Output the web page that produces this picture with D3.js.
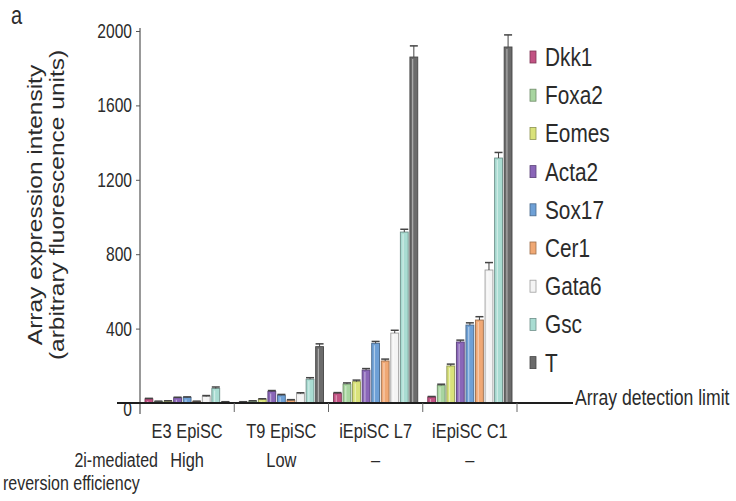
<!DOCTYPE html>
<html>
<head>
<meta charset="utf-8">
<script src="https://cdn.jsdelivr.net/npm/d3@7"></script>
<style>
  html, body { margin: 0; padding: 0; background: #fff; }
  svg { display: block; font-family: "Liberation Sans", Arial, sans-serif; }
</style>
</head>
<body>
<svg id="chart" width="736" height="501"></svg>
<script>
// ---- data ----
const groups = ["E3 EpiSC", "T9 EpiSC", "iEpiSC L7", "iEpiSC C1"];
const genes = ["Dkk1", "Foxa2", "Eomes", "Acta2", "Sox17", "Cer1", "Gata6", "Gsc", "T"];
const geneColors = ["#c25283", "#a8d5a0", "#d9e27a", "#8a66b8", "#6ea0d6", "#f0a874", "#f4f4f4", "#a9dcd2", "#6b6b6b"];
const valuesE3 = [22, 8, 10, 28, 30, 8, 35, 78, 5];
const valuesT9 = [5, 10, 20, 62, 42, 15, 50, 128, 303];
const valuesL7 = [52, 102, 115, 177, 321, 226, 376, 919, 1860];
const valuesC1 = [32, 95, 199, 328, 419, 446, 715, 1317, 1914];
const errorsE3 = [3, 2, 2, 3, 3, 2, 5, 8, 2];
const errorsT9 = [2, 2, 3, 5, 4, 3, 5, 8, 15];
const errorsL7 = [4, 6, 8, 8, 10, 10, 15, 15, 60];
const errorsC1 = [3, 6, 10, 10, 12, 18, 40, 30, 65];
const yTicks = [0, 400, 800, 1200, 1600, 2000];
const efficiency = ["High", "Low", "\u2013", "\u2013"];

const groupValues = [valuesE3, valuesT9, valuesL7, valuesC1];
const groupErrors = [errorsE3, errorsT9, errorsL7, errorsC1];
const rows = [];
groups.forEach((g, gi) => genes.forEach((gene, ki) => rows.push({
  group: g, gene, value: groupValues[gi][ki], err: groupErrors[gi][ki], color: geneColors[ki]
})));

// ---- layout ----
const svg = d3.select("#chart");
const SX = 0.8; // horizontal compression of the original figure's lettering
const textColor = "#2b2b2b";

const y = d3.scaleLinear().domain([0, 2000]).range([403, 31]);
const x0 = d3.scaleBand().domain(groups).range([140, 517]).padding(0);
const x1 = d3.scaleBand().domain(genes).range([5, x0.bandwidth() - 5]).paddingInner(0.18);

function label(sel, x, yy, txt, opts = {}) {
  const t = sel.append("text")
    .attr("transform", `translate(${x},${yy}) ${opts.rotate ? "rotate(-90) scale(1," + SX + ")" : "scale(" + SX + ",1)"}`)
    .attr("font-size", opts.size || 16)
    .attr("fill", opts.color || textColor)
    .attr("text-anchor", opts.anchor || "start")
    .text(txt);
  if (opts.weight) t.attr("font-weight", opts.weight);
  return t;
}

// panel letter
label(svg, 11, 24, "a", { size: 25 });

// y axis title
label(svg, 42, 205, "Array expression intensity", { rotate: true, anchor: "middle", size: 24.5 });
label(svg, 64, 205, "(arbitrary fluorescence units)", { rotate: true, anchor: "middle", size: 24.5 });

// y axis
const yAxisG = svg.append("g").attr("transform", "translate(140,0)")
  .call(d3.axisLeft(y).tickValues(yTicks).tickSize(4).tickFormat(d3.format("d")));
yAxisG.select(".domain").remove();
yAxisG.selectAll(".tick line").attr("stroke", "#555");
yAxisG.selectAll(".tick text").remove();
yTicks.forEach(t => label(svg, 132, y(t) + (t === 0 ? 13 : 7), String(t), { anchor: "end", size: 19.5 }));
svg.append("line").attr("x1", 140).attr("x2", 140).attr("y1", 28).attr("y2", 414)
  .attr("stroke", "#555").attr("stroke-width", 1.2);

// bars
const bars = svg.append("g");
bars.selectAll("rect").data(rows).join("rect")
  .attr("x", d => x0(d.group) + x1(d.gene))
  .attr("y", d => y(d.value))
  .attr("width", x1.bandwidth())
  .attr("height", d => y(0) - y(d.value))
  .attr("fill", d => d.color)
  .attr("stroke", d => d3.color(d.color).darker(1.2))
  .attr("stroke-width", 0.9);

// bar highlights
bars.selectAll("line.hl").data(rows).join("line").attr("class", "hl")
  .attr("x1", d => x0(d.group) + x1(d.gene) + x1.bandwidth() * 0.35)
  .attr("x2", d => x0(d.group) + x1(d.gene) + x1.bandwidth() * 0.35)
  .attr("y1", d => y(d.value) + 2)
  .attr("y2", y(0))
  .attr("stroke", "#fff").attr("stroke-opacity", 0.45).attr("stroke-width", 1.2);

// error bars
const eb = svg.append("g").attr("stroke", "#444").attr("stroke-width", 1);
eb.selectAll("line.v").data(rows).join("line").attr("class", "v")
  .attr("x1", d => x0(d.group) + x1(d.gene) + x1.bandwidth() / 2)
  .attr("x2", d => x0(d.group) + x1(d.gene) + x1.bandwidth() / 2)
  .attr("y1", d => y(d.value))
  .attr("y2", d => y(d.value + d.err));
eb.selectAll("line.c").data(rows).join("line").attr("class", "c")
  .attr("x1", d => x0(d.group) + x1(d.gene) + x1.bandwidth() / 2 - 4)
  .attr("x2", d => x0(d.group) + x1(d.gene) + x1.bandwidth() / 2 + 4)
  .attr("y1", d => y(d.value + d.err))
  .attr("y2", d => y(d.value + d.err))
  .attr("stroke-width", 1.5);

// detection limit line
svg.append("line").attr("x1", 117).attr("x2", 573).attr("y1", y(0)).attr("y2", y(0))
  .attr("stroke", "#1e1e1e").attr("stroke-width", 2.2);
label(svg, 575, y(0) + 2, "Array detection limit", { size: 22 });

// group separator ticks
svg.append("g").selectAll("line").data(groups).join("line")
  .attr("x1", d => x0(d) + x0.bandwidth()).attr("x2", d => x0(d) + x0.bandwidth())
  .attr("y1", y(0)).attr("y2", y(0) + 9)
  .attr("stroke", "#666").attr("stroke-width", 1);

// group labels
groups.forEach(g => label(svg, x0(g) + x0.bandwidth() / 2, 438, g, { anchor: "middle", size: 20.5 }));

// reversion efficiency row
label(svg, 158, 467, "2i-mediated", { anchor: "end", size: 20 });
label(svg, 3, 490, "reversion efficiency", { size: 20 });
groups.forEach((g, i) => label(svg, x0(g) + x0.bandwidth() / 2, 467, efficiency[i], { anchor: "middle", size: 20.5 }));

// legend
const legend = svg.append("g");
genes.forEach((gene, i) => {
  const cy = 57 + i * 38.2;
  legend.append("rect").attr("x", 530).attr("y", cy - 6).attr("width", 6).attr("height", 12)
    .attr("fill", geneColors[i]).attr("stroke", d3.color(geneColors[i]).darker(1.2)).attr("stroke-width", 0.8);
  label(legend, 545, cy + 9, gene, { size: 26 });
});
</script>
</body>
</html>
